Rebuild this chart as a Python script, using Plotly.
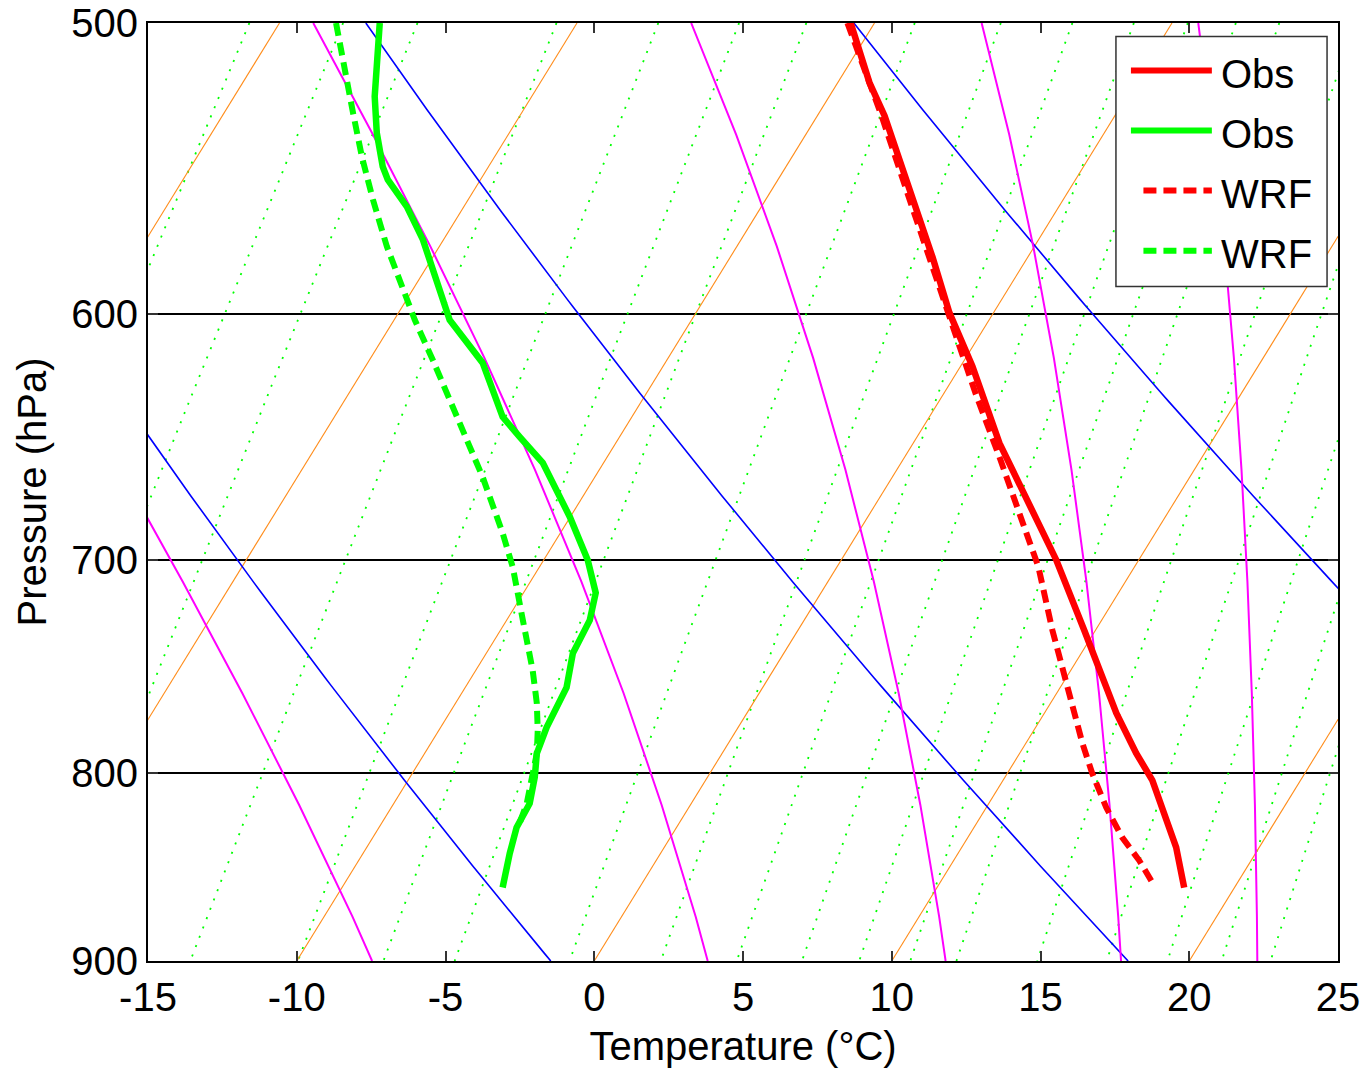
import numpy as np
import plotly.graph_objects as go

# ---------------- data ----------------
# Profiles: pressure (hPa) and temperature as plotted on the skewed x axis (deg C)
obs_T_p = [500, 519, 530, 558.5, 579, 599.6, 620, 650.6, 679.7, 700, 731.5, 745.4,
           770.6, 790.2, 803.7, 838.2, 859.5]
obs_T_x = [8.62, 9.25, 9.76, 10.70, 11.37, 11.94, 12.71, 13.62, 14.73, 15.53, 16.47,
           16.88, 17.55, 18.22, 18.76, 19.56, 19.83]

wrf_T_p = [500, 530, 558.5, 579, 602.3, 630.4, 656.3, 681.4, 703.1, 731.5, 746.8,
           765.8, 785.3, 800.2, 817.5, 833, 845.1, 856.8]
wrf_T_x = [8.51, 9.66, 10.60, 11.27, 12.01, 12.81, 13.62, 14.36, 14.93, 15.40, 15.70,
           16.04, 16.41, 16.74, 17.21, 17.75, 18.32, 18.76]

obs_Td_p = [500, 513.8, 523.6, 535.6, 547.1, 551.6, 561, 572.7, 580, 591, 599.2, 602.3,
            618.7, 640, 648.1, 658.7, 681.4, 700, 714.6, 726.9, 742.2, 758.2, 777.4,
            790.2, 802.2, 815.4, 827.7, 841.3, 859.5]
obs_Td_x = [-7.21, -7.31, -7.38, -7.31, -7.11, -6.94, -6.30, -5.76, -5.53, -5.19, -4.96,
            -4.86, -3.75, -3.08, -2.50, -1.73, -0.82, -0.22, 0.05, -0.15, -0.72, -0.93,
            -1.60, -1.93, -2.00, -2.17, -2.61, -2.84, -3.08]

wrf_Td_p = [500, 515.8, 528.9, 543.7, 558.5, 575.2, 589.9, 602.3, 617.5, 642.4, 664.6,
            688.3, 703.1, 726.9, 750.1, 765.8, 778.9, 790.2, 803.7, 815.4, 825.1]
wrf_Td_x = [-8.68, -8.38, -8.11, -7.81, -7.44, -6.97, -6.43, -6.03, -5.43, -4.52, -3.75,
            -3.08, -2.74, -2.40, -2.07, -1.93, -1.90, -1.93, -2.10, -2.27, -2.50]

legend_names = ["Obs", "Obs", "WRF", "WRF"]

# Reference-line families of the skew-T diagram
isotherms = list(range(-100, 50, 10))              # deg C
dry_adiabats = [240, 260, 280, 300, 320, 340, 360]  # potential temperature, K
moist_adiabats = [280, 300, 320, 340, 360]          # equivalent potential temperature, K
mixing_ratios = [0.6, 0.8, 1, 1.5, 2, 2.5, 3, 4, 5, 6, 7, 8, 9, 10, 12, 14, 16, 18, 20]  # g/kg

x_ticks = [-15, -10, -5, 0, 5, 10, 15, 20, 25]
x_tick_labels = ["-15", "-10", "-5", "0", "5", "10", "15", "20", "25"]
p_ticks = [500, 600, 700, 800, 900]
p_tick_labels = ["500", "600", "700", "800", "900"]

# ---------------- skew-T helpers ----------------
P_BOT, P_TOP = 900.0, 500.0
SKEW = 19.42
LNR = np.log(P_BOT / P_TOP)
RD, CP, LV, EPS = 287.04, 1004.0, 2.5e6, 0.622


def skew(T, p):
    return T + SKEW * np.log(P_BOT / p) / LNR


p_line = np.exp(np.linspace(np.log(P_TOP), np.log(P_BOT), 120))
# coarse levels used to step the moist adiabats downward (gives the gentle kinks)
p_moist = P_TOP * np.exp(0.07 * np.arange(0, 9))
p_moist = np.append(p_moist[p_moist < P_BOT], P_BOT)


def es_bolton(Tc):
    return 6.112 * np.exp(17.67 * Tc / (Tc + 243.5))


def theta_e(Tc, p):
    Tk = Tc + 273.15
    es = es_bolton(Tc)
    ws = EPS * es / (p - es)
    return Tk * (1000.0 / p) ** 0.286 * np.exp(LV * ws / (CP * Tk))


def moist_T(the, p):
    lo, hi = -90.0, 50.0
    for _ in range(60):
        mid = 0.5 * (lo + hi)
        if theta_e(mid, p) > the:
            hi = mid
        else:
            lo = mid
    return 0.5 * (lo + hi)


def dT_dlnp(Tc, p):
    Tk = Tc + 273.15
    es = es_bolton(Tc)
    rs = EPS * es / (p - es)
    return (RD * Tk + LV * rs) / (CP + LV * LV * rs * EPS / (RD * Tk * Tk))


def moist_profile(the):
    # start on the 500 hPa level, step the pseudo-adiabatic lapse rate downward
    T = np.empty_like(p_moist)
    T[0] = moist_T(the, p_moist[0])
    for i in range(1, len(p_moist)):
        h = np.log(p_moist[i] / p_moist[i - 1])
        T[i] = T[i - 1] + h * dT_dlnp(T[i - 1], p_moist[i - 1])
    return T


def dewpoint_from_w(w, p):
    e = p * w / (622.0 + w)
    invT = 1.0 / 273.15 - np.log(e / 6.11) / 5417.0
    return 1.0 / invT - 273.15


fig = go.Figure()

# mixing ratio lines
for w in mixing_ratios:
    Td = dewpoint_from_w(w, p_line)
    fig.add_trace(go.Scatter(x=skew(Td, p_line), y=p_line, mode="lines",
                             line=dict(color="#00ff00", width=1.8, dash="2px,8px"),
                             hoverinfo="skip", showlegend=False))
# isotherms
for T in isotherms:
    fig.add_trace(go.Scatter(x=skew(np.full_like(p_line, T), p_line), y=p_line, mode="lines",
                             line=dict(color="#ff8c1a", width=1.1),
                             hoverinfo="skip", showlegend=False))
# dry adiabats
for th in dry_adiabats:
    T = th * (p_line / 1000.0) ** 0.286 - 273.15
    fig.add_trace(go.Scatter(x=skew(T, p_line), y=p_line, mode="lines",
                             line=dict(color="#0000ff", width=1.6),
                             hoverinfo="skip", showlegend=False))
# moist adiabats
for the in moist_adiabats:
    T = moist_profile(the)
    fig.add_trace(go.Scatter(x=skew(T, p_moist), y=p_moist, mode="lines",
                             line=dict(color="#ff00ff", width=2),
                             hoverinfo="skip", showlegend=False))

# profiles
DASH = "13px,7px"
fig.add_trace(go.Scatter(x=wrf_T_x, y=wrf_T_p, mode="lines", name=legend_names[2],
                         line=dict(color="#ff0000", width=6, dash=DASH), showlegend=False))
fig.add_trace(go.Scatter(x=wrf_Td_x, y=wrf_Td_p, mode="lines", name=legend_names[3],
                         line=dict(color="#00ff00", width=6, dash=DASH), showlegend=False))
fig.add_trace(go.Scatter(x=obs_T_x, y=obs_T_p, mode="lines", name=legend_names[0],
                         line=dict(color="#ff0000", width=6.5), showlegend=False))
fig.add_trace(go.Scatter(x=obs_Td_x, y=obs_Td_p, mode="lines", name=legend_names[1],
                         line=dict(color="#00ff00", width=6.5), showlegend=False))

# ---------------- legend drawn in paper coords ----------------
FONT = "Liberation Sans, Arial, Helvetica, sans-serif"
shapes = [dict(type="rect", xref="paper", yref="paper", x0=0.8134, x1=0.9908,
               y0=0.719, y1=0.9856, line=dict(color="#333333", width=1.5),
               fillcolor="white", layer="above")]
annotations = []
leg_colors = ["#ff0000", "#00ff00", "#ff0000", "#00ff00"]
leg_dash = ["solid", "solid", DASH, DASH]
row_y = [0.9493, 0.8853, 0.8213, 0.7573]
for name, c, d, yy in zip(legend_names, leg_colors, leg_dash, row_y):
    shapes.append(dict(type="line", xref="paper", yref="paper", x0=0.826 if d == "solid" else 0.8365,
                       x1=0.894, y0=yy, y1=yy, line=dict(color=c, width=6, dash=d), layer="above"))
    annotations.append(dict(xref="paper", yref="paper", x=0.9, y=yy - 0.004, text=name,
                            showarrow=False, xanchor="left", yanchor="middle",
                            font=dict(family=FONT, size=40, color="black")))

fig.update_layout(
    width=1366, height=1074,
    margin=dict(l=148, r=28, t=23, b=113),
    paper_bgcolor="white", plot_bgcolor="white",
    font=dict(family=FONT, size=40, color="black"),
    shapes=shapes, annotations=annotations,
    showlegend=False,
)
fig.update_xaxes(range=[-15, 25], tickvals=x_ticks, ticktext=x_tick_labels,
                 automargin=False,
                 showgrid=False, zeroline=False, showline=True, mirror="ticks",
                 linecolor="black", linewidth=2, ticks="inside", ticklen=10,
                 tickwidth=1.5, tickcolor="#333333",
                 tickfont=dict(family=FONT, size=40),
                 title=dict(text="Temperature (°C)", font=dict(family=FONT, size=40),
                            standoff=14))
fig.update_yaxes(type="log", range=[np.log10(900), np.log10(500)],
                 tickvals=p_ticks, ticktext=p_tick_labels, automargin=False,
                 showgrid=True, gridcolor="black", gridwidth=2, zeroline=False,
                 showline=True, mirror="ticks", linecolor="black", linewidth=2,
                 ticks="inside", ticklen=10, tickwidth=1.5, tickcolor="#333333",
                 tickfont=dict(family=FONT, size=40),
                 title=dict(text="Pressure (hPa)", font=dict(family=FONT, size=40),
                            standoff=12))

fig.write_html("out.html")
